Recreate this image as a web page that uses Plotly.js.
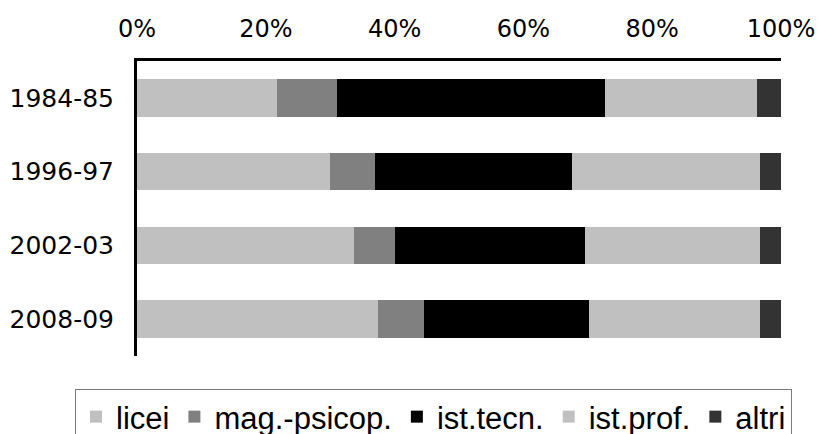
<!DOCTYPE html>
<html>
<head>
<meta charset="utf-8">
<script src="https://cdn.plot.ly/plotly-3.0.1.min.js"></script>
<style>html,body{margin:0;padding:0;background:#fff;}#chart{width:819px;height:434px;}</style>
</head>
<body>
<div id="chart"></div>
<script>
const years = ["1984-85", "1996-97", "2002-03", "2008-09"];
const seriesNames = ["licei", "mag.-psicop.", "ist.tecn.", "ist.prof.", "altri"];
const licei = [21.7, 29.9, 33.7, 37.4];
const magPsicop = [9.4, 7.0, 6.4, 7.2];
const istTecn = [41.5, 30.6, 29.5, 25.6];
const istProf = [23.6, 29.2, 27.1, 26.6];
const altri = [3.8, 3.3, 3.3, 3.2];
const xTicks = [0, 20, 40, 60, 80, 100];

const seriesValues = [licei, magPsicop, istTecn, istProf, altri];
const colors = ["#c0c0c0", "#808080", "#000000", "#c0c0c0", "#333333"];

const traces = seriesValues.map((vals, i) => ({
  type: "bar",
  orientation: "h",
  name: seriesNames[i],
  y: years,
  x: vals,
  marker: {color: colors[i], line: {width: 0}},
  hoverinfo: "x+name"
}));

const plotL = 137, plotR = 781, plotT = 61, plotB = 356;
const plotW = plotR - plotL, plotH = plotB - plotT;

const layout = {
  width: 819,
  height: 434,
  margin: {l: plotL, r: 819 - plotR, t: plotT, b: 434 - plotB, pad: 0, autoexpand: false},
  paper_bgcolor: "#ffffff",
  plot_bgcolor: "#ffffff",
  barmode: "stack",
  barnorm: "percent",
  bargap: 0.49,
  font: {family: "DejaVu Sans, Verdana, sans-serif", size: 24, color: "#000"},
  xaxis: {
    side: "top",
    range: [0, 100],
    tickvals: xTicks,
    ticktext: xTicks.map(v => v + "%"),
    showgrid: false,
    zeroline: false,
    showline: true,
    linecolor: "#000",
    linewidth: 3,
    ticks: "",
    ticklabelstandoff: 11,
    tickfont: {family: "DejaVu Sans, Verdana, sans-serif", size: 24, color: "#000"},
    fixedrange: true
  },
  yaxis: {
    type: "category",
    categoryorder: "array",
    categoryarray: years,
    autorange: "reversed",
    showgrid: false,
    zeroline: false,
    showline: true,
    linecolor: "#000",
    linewidth: 3,
    ticks: "",
    ticklabelstandoff: 15,
    tickfont: {family: "DejaVu Sans, Verdana, sans-serif", size: 25, color: "#000"},
    fixedrange: true
  },
  showlegend: true,
  legend: {
    orientation: "h",
    xref: "paper",
    yref: "paper",
    x: (75 - plotL) / plotW,
    y: (plotB - 389) / plotH,
    xanchor: "left",
    yanchor: "top",
    bgcolor: "#ffffff",
    bordercolor: "#7a7a7a",
    borderwidth: 1,
    traceorder: "normal",
    itemwidth: 30,
    font: {family: "Liberation Sans, Arial, sans-serif", size: 31, color: "#000"}
  }
};

Plotly.newPlot("chart", traces, layout, {displayModeBar: false, staticPlot: true});
</script>
</body>
</html>
